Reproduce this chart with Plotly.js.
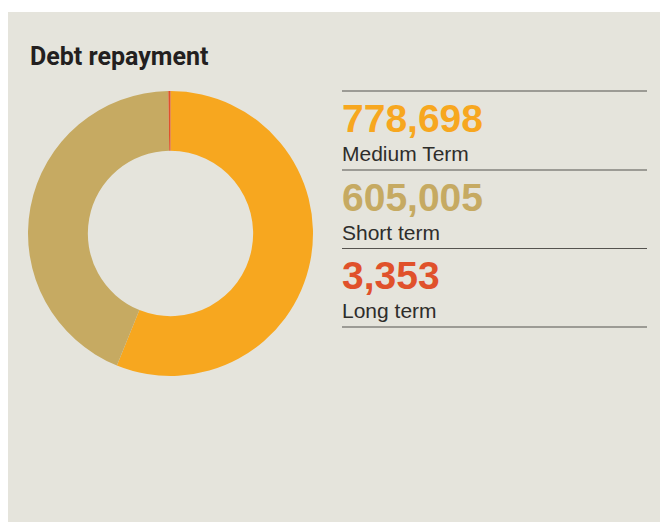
<!DOCTYPE html>
<html>
<head>
<meta charset="utf-8">
<script src="https://cdn.plot.ly/plotly-3.0.1.min.js"></script>
<style>html,body{margin:0;padding:0;background:#fff;}#chart{width:660px;height:523px;}</style>
</head>
<body>
<div id="chart"></div>
<script>
// Data
const categories = ["Medium Term", "Short term", "Long term"];
const values = [778698, 605005, 3353];
const colors = ["#f7a71f", "#c6aa62", "#e0512b"];
const chartTitle = "Debt repayment";

const W = 660, H = 523;
const px = x => x / W;
const py = y => 1 - y / H;

const trace = {
  type: "pie",
  labels: categories,
  values: values,
  marker: {colors: colors, line: {width: 0}},
  hole: 0.58,
  sort: false,
  direction: "clockwise",
  rotation: 0,
  textinfo: "none",
  hoverinfo: "label+value",
  showlegend: false,
  domain: {x: [px(28), px(313)], y: [py(376), py(91)]}
};

const shapes = [{
  type: "rect", xref: "paper", yref: "paper", layer: "below",
  x0: px(8), x1: px(661), y0: py(522), y1: py(12),
  fillcolor: "#e5e4dc", line: {width: 0}
}];
const annotations = [{
  xref: "paper", yref: "paper", x: px(28), y: py(56), xanchor: "left", yanchor: "middle",
  text: "<b>" + chartTitle + "</b>", showarrow: false,
  font: {family: "Roboto, 'Liberation Sans', sans-serif", size: 25, color: "#231f20"}
}];

const rowTop = [91, 170, 248.5];
const fmt = v => v.toLocaleString("en-US");
categories.forEach((c, i) => {
  const top = rowTop[i];
  shapes.push({type: "line", xref: "paper", yref: "paper",
    x0: px(342), x1: px(647), y0: py(top), y1: py(top),
    line: {color: "#55534f", width: 1.2}});
  annotations.push({
    xref: "paper", yref: "paper", x: px(340), y: py(top + 27), xanchor: "left", yanchor: "middle",
    text: "<b>" + fmt(values[i]) + "</b>", showarrow: false,
    font: {family: "'Liberation Sans', Arial, sans-serif", size: 39, color: colors[i]}
  });
  annotations.push({
    xref: "paper", yref: "paper", x: px(340), y: py(top + 62), xanchor: "left", yanchor: "middle",
    text: c, showarrow: false,
    font: {family: "'Liberation Sans', sans-serif", size: 21, color: "#2e2d2b"}
  });
});
shapes.push({type: "line", xref: "paper", yref: "paper",
  x0: px(342), x1: px(647), y0: py(327), y1: py(327),
  line: {color: "#55534f", width: 1.2}});

const layout = {
  width: W, height: H,
  margin: {l: 0, r: 0, t: 0, b: 0},
  paper_bgcolor: "#ffffff",
  plot_bgcolor: "rgba(0,0,0,0)",
  shapes: shapes,
  annotations: annotations,
  showlegend: false
};

Plotly.newPlot("chart", [trace], layout, {displayModeBar: false, staticPlot: true});
</script>
</body>
</html>
